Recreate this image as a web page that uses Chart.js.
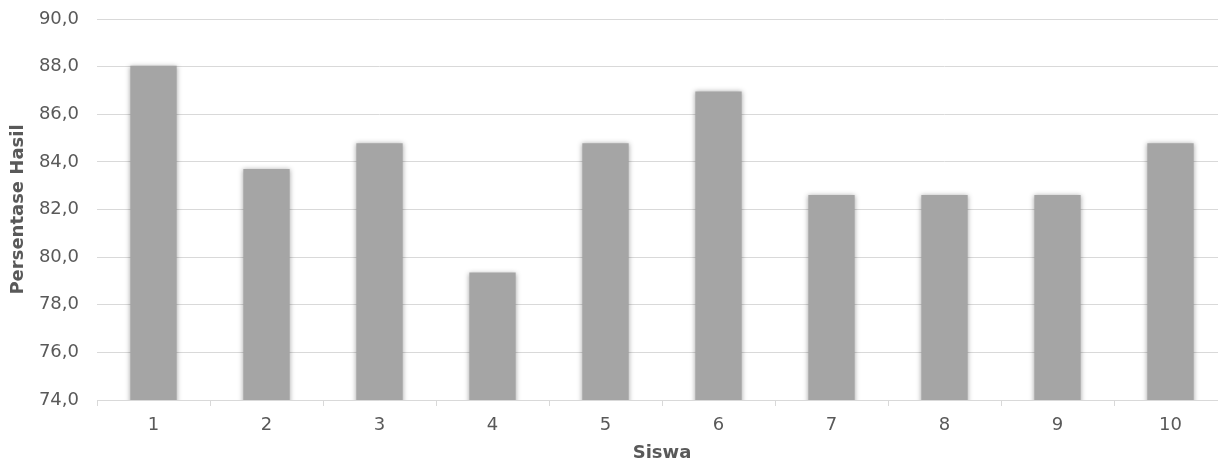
<!DOCTYPE html>
<html>
<head>
<meta charset="utf-8">
<script src="https://cdn.jsdelivr.net/npm/chart.js@4/dist/chart.umd.min.js"></script>
<style>
    html, body { margin: 0; padding: 0; background: #fff; overflow: hidden; }
    #wrap { position: absolute; left: 0; top: 0; width: 1240px; height: 464px; }
</style>
</head>
<body>
<div id="wrap"><canvas id="chart" width="1240" height="464"></canvas></div>
<script>
// Data
const siswa = ['1', '2', '3', '4', '5', '6', '7', '8', '9', '10'];
const persentase = [88.04, 83.70, 84.78, 79.35, 84.78, 86.96, 82.61, 82.61, 82.61, 84.78];
const yMin = 74;
const yMax = 90;
const yStep = 2;

const TEXT = '#595959';
const GRID = '#d9d9d9';
const FONT = 'Verdana, "DejaVu Sans", sans-serif';

// soft shadow round the bars
const barShadow = {
    id: 'barShadow',
    beforeDatasetsDraw(chart) {
        const ctx = chart.ctx;
        ctx.save();
        ctx.shadowColor = 'rgba(0, 0, 0, 0.35)';
        ctx.shadowBlur = 5;
        ctx.shadowOffsetX = 0;
        ctx.shadowOffsetY = 0;
    },
    afterDatasetsDraw(chart) {
        chart.ctx.restore();
    }
};

new Chart(document.getElementById('chart'), {
    type: 'bar',
    data: {
        labels: siswa,
        datasets: [{
            data: persentase,
            backgroundColor: '#a5a5a5',
            borderWidth: 0,
            barPercentage: 0.41,
            categoryPercentage: 1
        }]
    },
    options: {
        responsive: false,
        animation: false,
        layout: { padding: { top: 19, right: 13, bottom: 0, left: 0 } },
        plugins: {
            legend: { display: false },
            tooltip: { enabled: false }
        },
        scales: {
            x: {
                grid: {
                    offset: true,
                    drawOnChartArea: false,
                    tickLength: 6,
                    color: GRID
                },
                border: { color: GRID, width: 1 },
                ticks: {
                    color: TEXT,
                    font: { family: FONT, size: 18 },
                    padding: 9,
                    maxRotation: 0
                },
                title: {
                    display: true,
                    text: 'Siswa',
                    color: TEXT,
                    font: { family: FONT, size: 18, weight: 'bold' },
                    padding: { top: 6, bottom: 0 }
                },
                afterFit(scale) { scale.height = 64; }
            },
            y: {
                min: yMin,
                max: yMax,
                grid: { color: GRID, lineWidth: 1, drawTicks: false },
                border: { display: false },
                ticks: {
                    stepSize: yStep,
                    color: TEXT,
                    font: { family: FONT, size: 18 },
                    padding: 18,
                    callback: v => v.toFixed(1).replace('.', ',')
                },
                title: {
                    display: true,
                    text: 'Persentase Hasil',
                    color: TEXT,
                    font: { family: FONT, size: 18, weight: 'bold' },
                    padding: { top: 8, bottom: 0 }
                },
                afterFit(scale) {
                    scale.width = 97;
                    scale.paddingTop = 0;
                    scale.paddingBottom = 0;
                }
            }
        }
    },
    plugins: [barShadow]
});
</script>
</body>
</html>
